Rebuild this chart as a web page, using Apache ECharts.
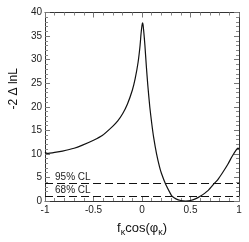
<!DOCTYPE html>
<html><head><meta charset="utf-8">
<script src="https://cdn.jsdelivr.net/npm/echarts@6/dist/echarts.min.js"></script>
<style>html,body{margin:0;padding:0;background:#fff}#c{width:249px;height:242px}</style>
</head><body><div id="c"></div>
<script>
const xValues = [-1.0,-0.98,-0.95,-0.9,-0.82,-0.7,-0.62,-0.5,-0.41,-0.3,-0.25,-0.2,-0.15,-0.1,-0.07,-0.04,-0.02,-0.01,0.0,0.005,0.01,0.02,0.03,0.045,0.06,0.08,0.1,0.12,0.15,0.18,0.2,0.245,0.3,0.31,0.35,0.4,0.45,0.5,0.55,0.6,0.68,0.75,0.78,0.83,0.885,0.93,0.97,0.99,1.0];
const yValues = [10.4,10.1,10.15,10.3,10.6,11.2,11.8,12.9,13.9,15.9,17.0,18.5,20.6,23.5,26.0,29.5,33.0,35.5,37.3,37.8,37.5,35.5,33.0,28.5,24.5,20.0,16.5,13.5,10.0,7.3,5.9,3.5,1.3,1.0,0.45,0.1,0.0,0.1,0.45,1.0,2.2,3.84,4.5,6.0,7.8,9.5,10.8,11.2,11.0];
const clLevels = [3.84, 1.0];
const clLabels = ['95% CL', '68% CL'];
const xTicks = [-1, -0.5, 0, 0.5, 1];
const yTicks = [0, 5, 10, 15, 20, 25, 30, 35, 40];

const font = 'Liberation Sans, Arial, sans-serif';
function axisCommon() {
  return {
    axisLine: {show: true, onZero: false, lineStyle: {color: '#333', width: 1}},
    axisTick: {show: true, inside: true, length: 5, lineStyle: {color: '#777'}},
    minorTick: {show: true, splitNumber: 5, length: 3, lineStyle: {color: '#888'}},
    splitLine: {show: false}
  };
}
const chart = echarts.init(document.getElementById('c'));
chart.setOption({
  animation: false,
  grid: {left: 40, right: 10, top: 12.5, bottom: 33},
  xAxis: [
    Object.assign({type: 'value', min: xTicks[0], max: xTicks[xTicks.length-1], interval: 0.5,
      position: 'bottom',
      axisLabel: {fontFamily: font, fontSize: 10, color: '#222', margin: 4,
        formatter: v => String(v)},
      name: 'f{s|κ}cos(φ{s|κ})', nameLocation: 'middle', nameGap: 19,
      nameTextStyle: {fontFamily: font, fontSize: 13, color: '#111',
        rich: {s: {fontFamily: font, fontSize: 9, verticalAlign: 'bottom', padding: [8,0,0,0], color: '#111'}}}
    }, axisCommon()),
    Object.assign({type: 'value', min: xTicks[0], max: xTicks[xTicks.length-1], interval: 0.5,
      position: 'top', axisLabel: {show: false}}, axisCommon())
  ],
  yAxis: [
    Object.assign({type: 'value', min: yTicks[0], max: yTicks[yTicks.length-1], interval: 5,
      position: 'left',
      axisLabel: {fontFamily: font, fontSize: 10, color: '#222', margin: 3},
      name: '-2 Δ lnL', nameLocation: 'middle', nameGap: 24, nameRotate: 90,
      nameTextStyle: {fontFamily: font, fontSize: 12, color: '#111', padding: [0,0,0,36]}
    }, axisCommon()),
    Object.assign({type: 'value', min: yTicks[0], max: yTicks[yTicks.length-1], interval: 5,
      position: 'right', axisLabel: {show: false}}, axisCommon())
  ],
  series: [{
    type: 'line',
    data: xValues.map((x, i) => [x, yValues[i]]),
    showSymbol: false,
    smooth: 0.2,
    lineStyle: {color: '#111', width: 1.2},
    markLine: {
      symbol: 'none',
      silent: true,
      lineStyle: {color: '#111', width: 1, type: [8, 4]},
      label: {show: true, position: 'insideStartTop', fontFamily: font, fontSize: 10, color: '#222', distance: [10, 1]},
      data: clLevels.map((v, i) => ({yAxis: v, label: {formatter: clLabels[i]}}))
    }
  }]
});
</script></body></html>
